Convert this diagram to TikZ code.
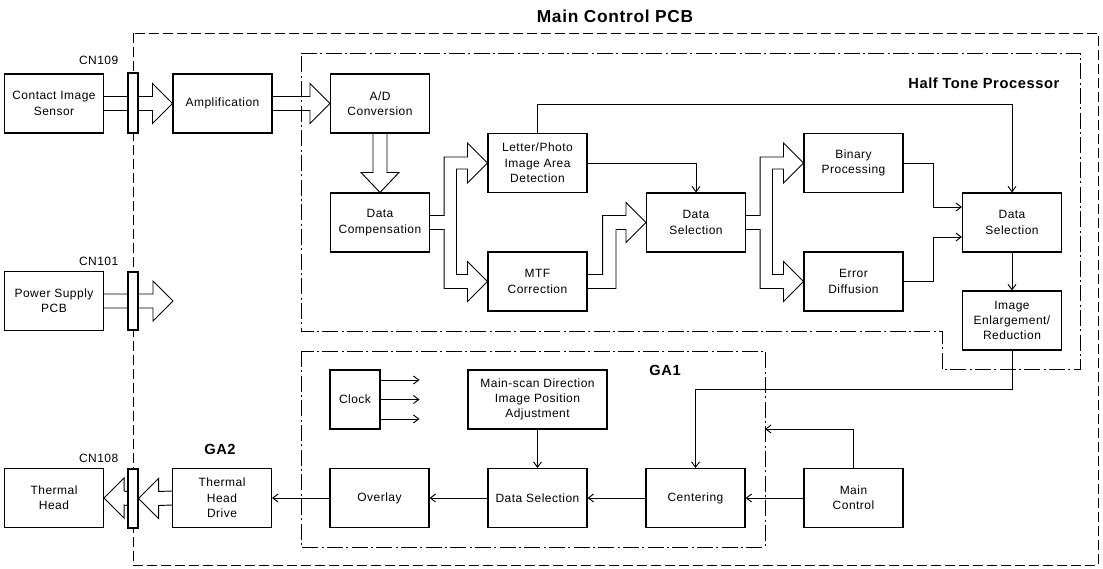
\documentclass[tikz,border=0pt]{standalone}
\usepackage{fontspec}
\setmainfont[LetterSpace=4]{Liberation Sans}
\usetikzlibrary{arrows.meta,calc,backgrounds}
\tikzset{
 box/.style={draw, line width=0.8pt, minimum width=74.25pt, minimum height=44.25pt, inner sep=1pt, align=center, font=\fontsize{9}{11.5}\selectfont},
 conn/.style={draw, fill=white, line width=0.8pt, minimum width=7.5pt, minimum height=44.25pt, inner sep=0pt},
 hollow/.style={line width=0.7pt, line join=miter},
 arr/.style={line width=0.7pt, -{Straight Barb[length=4pt,width=6pt]}},
 maindash/.style={line width=0.7pt, dash pattern=on 7.5pt off 3pt},
 dashdot/.style={line width=0.7pt, dash pattern=on 12pt off 2.5pt on 1.5pt off 2.5pt},
 title/.style={font=\bfseries\fontsize{11}{13}\selectfont},
 cnlabel/.style={font=\fontsize{9}{11}\selectfont, anchor=east},
}
\newcommand\forkarrow[3]{%
 \draw[hollow] ($(#1.east)+(0,-7)$) -- ++(14,0) |- ($(#2.west)+(-20,-6)$) -- ++(0,-14) -- (#2.west) -- ++(-20,20) -- ++(0,-14) -- ++(-11,0) |- ($(#3.west)+(-20,-7)$) -- ++(0,-13) -- (#3.west) -- ++(-20,20) -- ++(0,-13) -| ($(#1.east)+(14,7)$) -- ($(#1.east)+(0,7)$);}
\newcommand\rarrow[2]{%
 \draw[hollow] ($(#1.east)+(0,-7)$) -- ($(#2)+(-20,-7)$) -- ++(0,-13) -- (#2) -- ++(-20,20) -- ++(0,-13) -- ($(#1.east)+(0,7)$);}
\newcommand\larrow[2]{%
 \draw[hollow] ($(#1.west)+(0,-7)$) -- ($(#2)+(20,-7)$) -- ++(0,-13) -- (#2) -- ++(20,20) -- ++(0,-13) -- ($(#1.west)+(0,7)$);}
\begin{document}
\begin{tikzpicture}[x=0.75pt,y=-0.75pt]
\useasboundingbox (0,0) rectangle (1103,568);
% title
\node[font=\bfseries\fontsize{13}{15}\selectfont] (ttl) at (615,16) {Main Control PCB};
% boxes
\node[box] (cis) at (54,103.5) {Contact Image\\Sensor};
\node[box] (amp) at (222.5,103.5) {Amplification};
\node[box] (ad) at (380,103.5) {A/D\\Conversion};
\node[box] (dc) at (380,222.5) {Data\\Compensation};
\node[box] (lp) at (537.5,163) {Letter/Photo\\Image Area\\Detection};
\node[box] (mtf) at (537.5,281.5) {MTF\\Correction};
\node[box] (ds1) at (696,222.5) {Data\\Selection};
\node[box] (bin) at (853.5,163) {Binary\\Processing};
\node[box] (err) at (853.5,281.5) {Error\\Diffusion};
\node[box] (ds2) at (1012,222.5) {Data\\Selection};
\node[box] (ie) at (1012,320.5) {Image\\Enlargement/\\Reduction};
\node[box] (ps) at (54,301) {Power Supply\\PCB};
\node[box, minimum width=37.5pt] (clk) at (355,399.5) {Clock};
\node[box, minimum width=104.25pt] (msd) at (537.5,399.5) {Main-scan Direction\\Image Position\\Adjustment};
\node[box] (ovl) at (379.5,498) {Overlay};
\node[box] (dsg) at (537.5,498) {Data Selection};
\node[box] (cen) at (695.5,498) {Centering};
\node[box] (mc) at (853.5,498) {Main\\Control};
\node[box] (thd) at (222,498) {Thermal\\Head\\Drive};
\node[box] (th) at (54,498) {Thermal\\Head};
% connectors
\node[conn, minimum height=45pt] (cn109) at (133,103) {};
\node[conn, minimum height=43.5pt] (cn101) at (133,301) {};
\node[conn] (cn108) at (133,498.5) {};
\node[cnlabel] (l109) at (123,60) {CN109};
\node[cnlabel] (l101) at (123,261) {CN101};
\node[cnlabel] (l108) at (123,458) {CN108};
% group labels
\node[title, anchor=east] (htp) at (1064,83) {Half Tone Processor};
\node[title] (ga1) at (665,370) {GA1};
\node[title] (ga2) at (220,449) {GA2};
\coordinate (psend) at (173,301);
\coordinate (ga1in) at (765,429);
\begin{scope}[on background layer]
% boundaries
\draw[maindash] (133,33) rectangle (1098,565);
\draw[dashdot] (301,53) -- (1080,53) -- (1080,369) -- (942,369) -- (942,331) -- (301,331) -- cycle;
\draw[dashdot] (301,351) rectangle (765,547);
% hollow arrows
\rarrow{cis}{amp.west}
\rarrow{amp}{ad.west}
\rarrow{ps}{psend}
\draw[hollow] ($(ad.south)+(-7,0)$) -- ($(dc.north)+(-7,-20)$) -- ++(-12,0) -- (dc.north) -- ++(19,-20) -- ++(-12,0) -- ($(ad.south)+(7,0)$);
\forkarrow{dc}{lp}{mtf}
\forkarrow{ds1}{bin}{err}
\draw[hollow] ($(mtf.east)+(0,-7)$) -- ++(15,0) |- ($(ds1.west)+(-20,-7)$) -- ++(0,-13) -- (ds1.west) -- ++(-20,20) -- ++(0,-13) -- ++(-10,0) |- ($(mtf.east)+(0,7)$);
\larrow{thd}{cn108.east}
\larrow{cn108}{th.east}
\end{scope}
% thin arrows
\draw[arr] (lp.east) -| (ds1.north);
\draw[arr] (lp.north) -- ++(0,-29) -| (ds2.north);
\draw[arr] (bin.east) -- ++(30,0) |- ($(ds2.west)+(0,-15.5)$);
\draw[arr] (err.east) -- ++(30,0) |- ($(ds2.west)+(0,14.5)$);
\draw[arr] (ds2.south) -- (ie.north);
\draw[arr] (ie.south) -- ++(0,38.5) -| (cen.north);
\draw[arr] (mc.north) |- (ga1in);
\draw[arr] (mc.west) -- (cen.east);
\draw[arr] (cen.west) -- (dsg.east);
\draw[arr] (dsg.west) -- (ovl.east);
\draw[arr] (ovl.west) -- (thd.east);
\draw[arr] (msd.south) -- (dsg.north);
\draw[arr] ($(clk.east)+(0,-19.5)$) -- ++(39,0);
\draw[arr] (clk.east) -- ++(39,0);
\draw[arr] ($(clk.east)+(0,19.5)$) -- ++(39,0);
\end{tikzpicture}
\end{document}
